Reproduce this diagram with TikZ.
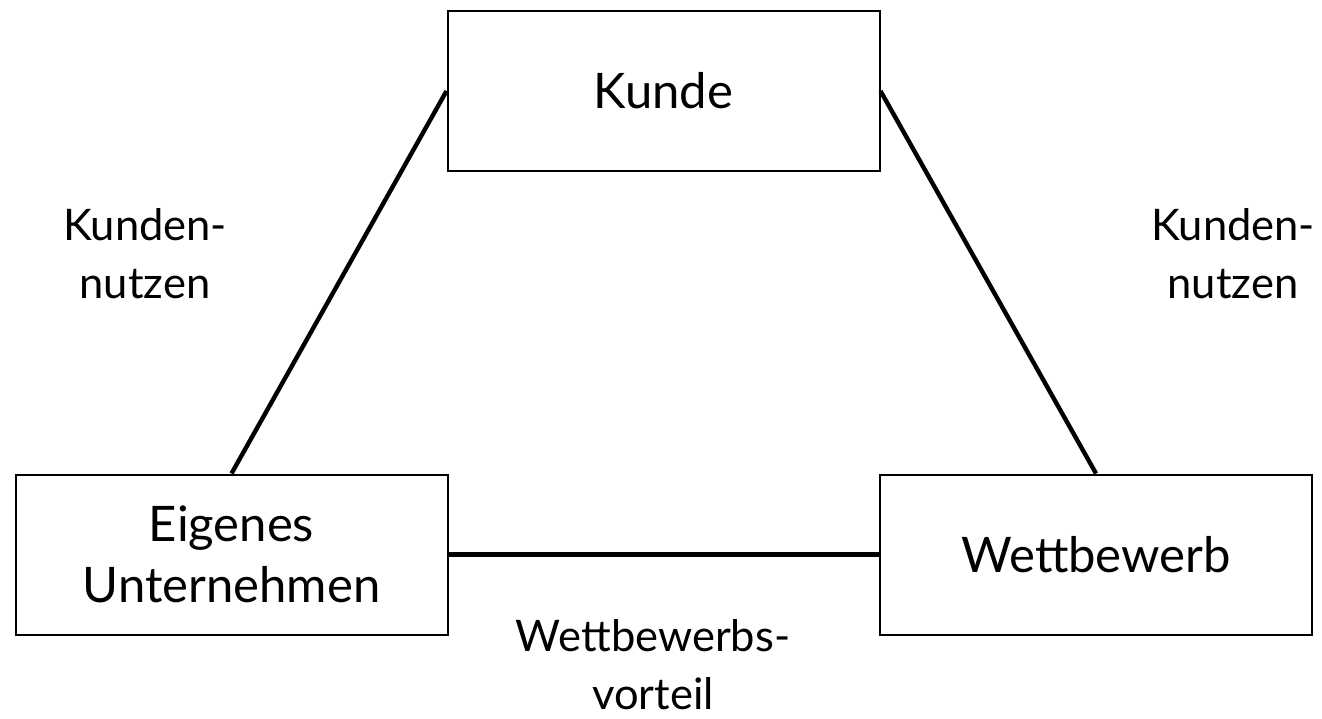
\documentclass[tikz,border=0pt]{standalone}
\usepackage{fontspec}
\setmainfont{Lato}
\begin{document}
\begin{tikzpicture}[x=1pt,y=-1pt,
  box/.style={draw=black, line width=2pt, minimum width=432pt, minimum height=160pt,
    inner sep=0pt, align=center, font=\fontsize{49}{61}\selectfont},
  lbl/.style={align=center, inner sep=0pt, font=\fontsize{43.5}{58}\selectfont},
  link/.style={line width=4.4pt},
  hlink/.style={line width=4.8pt}]
  \useasboundingbox (0,0) rectangle (1322,719);
  % the three parties
  \node[box] (kunde) at (663.5,91) {Kunde};
  \node[box] (eigen) at (231.5,554.5) {Eigenes\\Unternehmen};
  \node[box] (wett)  at (1096,554.5) {Wettbewerb};
  % relations between them
  \draw[link] (kunde.west) -- (eigen.north);
  \draw[link] (kunde.east) -- (wett.north);
  \draw[hlink] (eigen.east) -- (wett.west);
  % labels of the relations
  \node[lbl] (nl) at (145,254) {Kunden-\\nutzen};
  \node[lbl] (nr) at (1233,254) {Kunden-\\nutzen};
  \node[lbl] (wv) at (653,665) {Wettbewerbs-\\vorteil};
\end{tikzpicture}
\end{document}
